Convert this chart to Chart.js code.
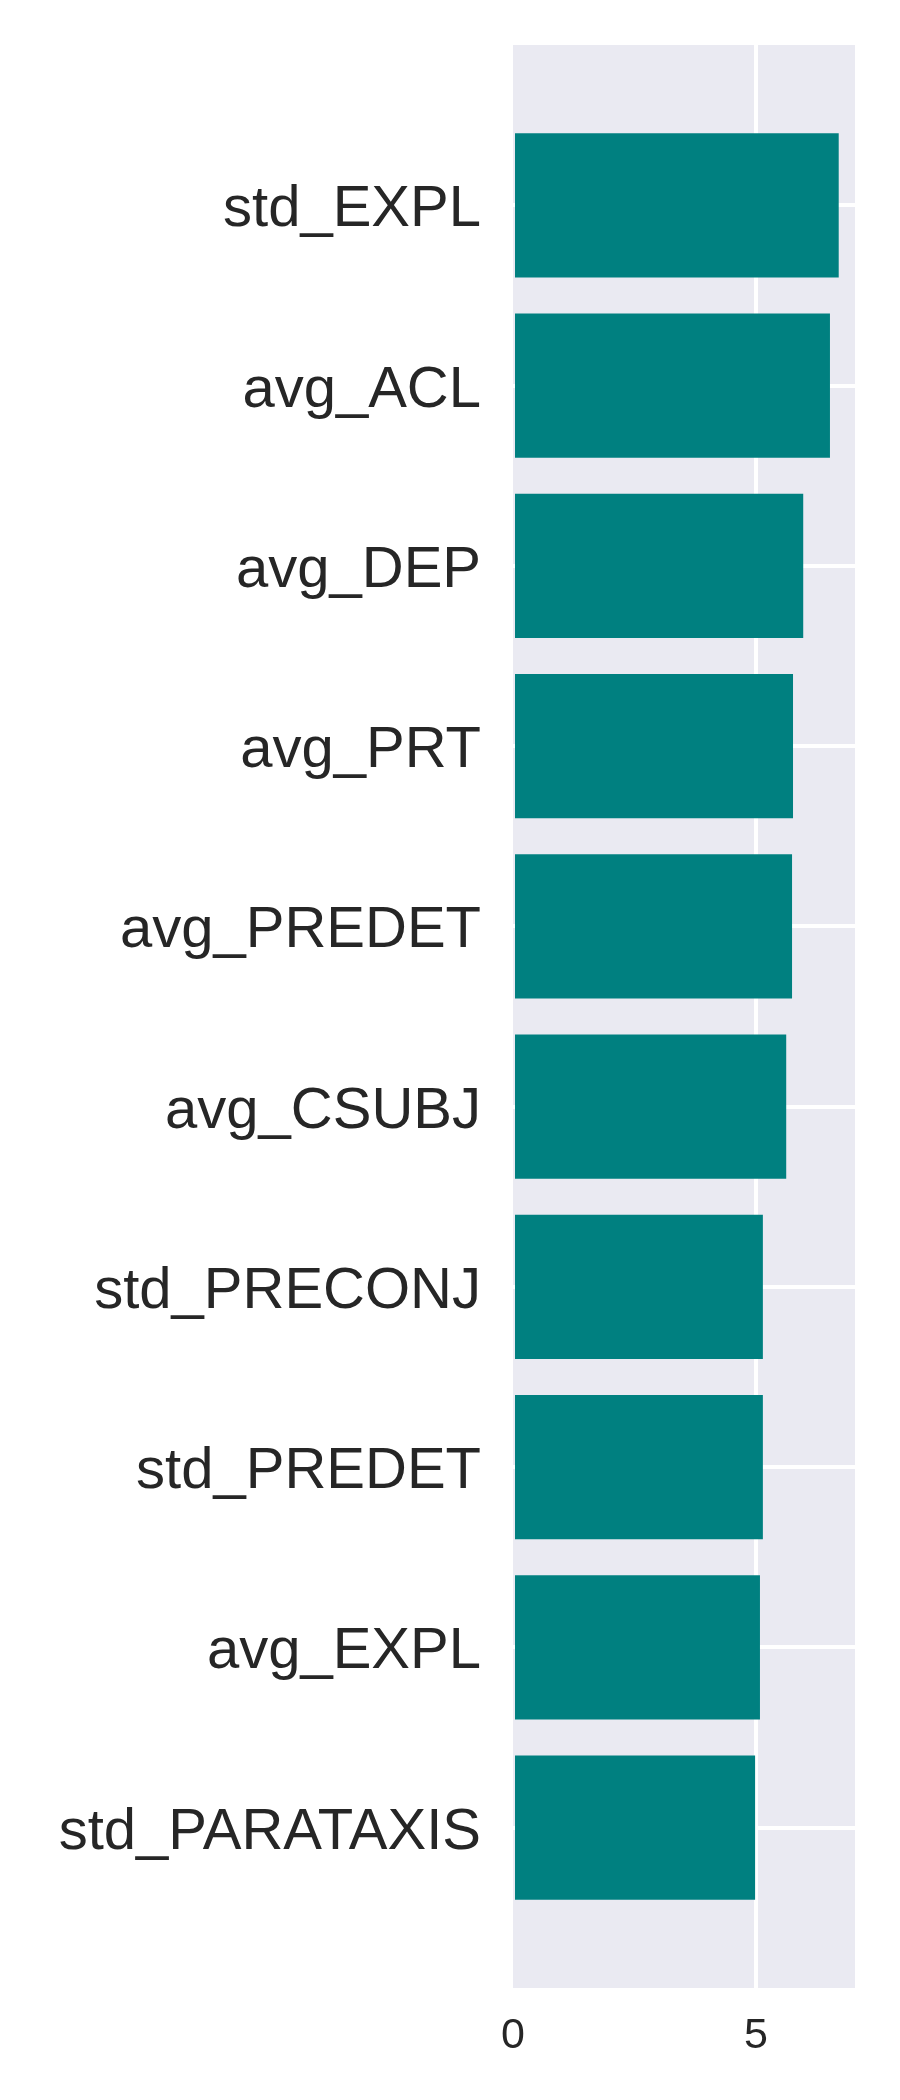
<!DOCTYPE html>
<html>
<head>
<meta charset="utf-8">
<script src="https://cdn.jsdelivr.net/npm/chart.js@4/dist/chart.umd.min.js"></script>
<style>
  html, body { margin: 0; padding: 0; background: #ffffff; }
  #c { display: block; }
</style>
</head>
<body>
<canvas id="c" width="900" height="2100"></canvas>
<script>
// ---- data ----
const categories = ["std_EXPL", "avg_ACL", "avg_DEP", "avg_PRT", "avg_PREDET",
                    "avg_CSUBJ", "std_PRECONJ", "std_PREDET", "avg_EXPL", "std_PARATAXIS"];
const values = [6.70, 6.52, 5.97, 5.76, 5.74, 5.62, 5.14, 5.14, 5.08, 4.98];
const xTicks = [0, 5];
const xMax = 7.035;
const yMin = -0.89;
const yMax = 9.89;

const BG = '#EAEAF2';
const BAR = '#008080';
const TEXT = '#262626';

const bgPlugin = {
  id: 'axesBg',
  beforeDraw(chart) {
    const {ctx, chartArea: a} = chart;
    ctx.save();
    ctx.fillStyle = BG;
    ctx.fillRect(a.left, a.top, a.right - a.left, a.bottom - a.top);
    ctx.restore();
  }
};

new Chart(document.getElementById('c'), {
  type: 'bar',
  data: {
    datasets: [{
      data: values.map((v, i) => ({x: v, y: i})),
      backgroundColor: BAR,
      borderWidth: 0,
      barPercentage: 0.8,
      categoryPercentage: 1.0
    }]
  },
  options: {
    indexAxis: 'y',
    responsive: false,
    animation: false,
    layout: { padding: { top: 45, right: 45, left: 0, bottom: 0 } },
    plugins: { legend: { display: false }, tooltip: { enabled: false } },
    scales: {
      x: {
        type: 'linear',
        min: 0,
        max: xMax,
        afterBuildTicks(scale) { scale.ticks = xTicks.map(v => ({value: v})); },
        afterFit(scale) {
          scale.height = 112;
          scale.paddingLeft = 0; scale.paddingRight = 0;
        },
        grid: {
          color: ctx => (ctx.tick && ctx.tick.value === 0) ? 'rgba(0,0,0,0)' : '#ffffff',
          lineWidth: 4,
          drawTicks: false
        },
        border: { display: false },
        ticks: {
          color: TEXT,
          padding: 22,
          font: { family: '"Liberation Sans", Arial, sans-serif', size: 43 },
          callback: v => String(v)
        }
      },
      y: {
        type: 'linear',
        reverse: true,
        offset: false,
        min: yMin,
        max: yMax,
        afterBuildTicks(scale) { scale.ticks = categories.map((c, i) => ({value: i})); },
        afterFit(scale) {
          scale.width = 513;
          scale.paddingTop = 0; scale.paddingBottom = 0;
        },
        grid: { color: '#ffffff', lineWidth: 4, drawTicks: false, offset: false },
        border: { display: false },
        ticks: {
          color: TEXT,
          padding: 32,
          labelOffset: 5,
          font: { family: '"Liberation Sans", Arial, sans-serif', size: 58 },
          callback: v => categories[v]
        }
      }
    }
  },
  plugins: [bgPlugin]
});
</script>
</body>
</html>
